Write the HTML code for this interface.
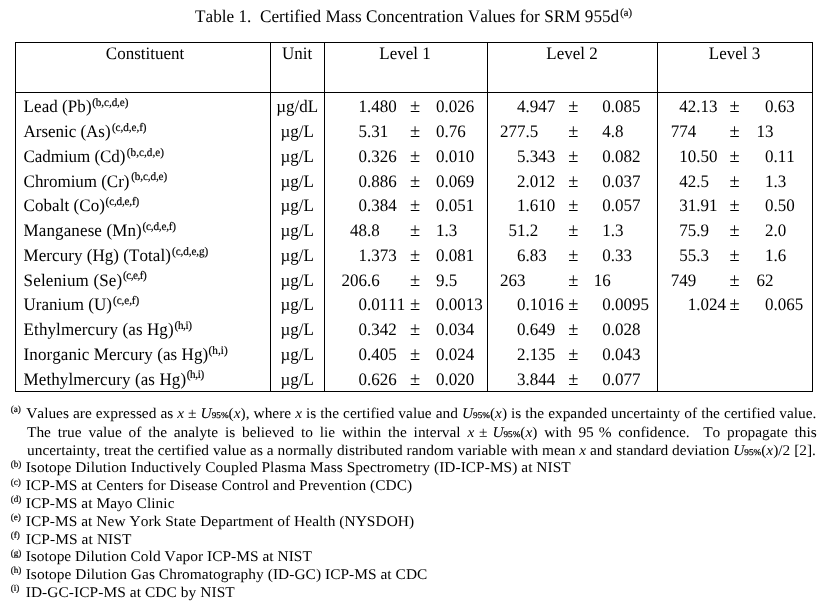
<!DOCTYPE html>
<html><head><meta charset="utf-8"><title>Table 1. Certified Mass Concentration Values for SRM 955d</title>
<style>html,body{margin:0;padding:0;background:#fff;width:831px;height:607px;overflow:hidden}svg{display:block}</style>
</head><body>
<svg width="831" height="607" viewBox="0 0 831 607" font-family="'Liberation Serif', 'Times New Roman', serif" fill="#000" text-rendering="geometricPrecision" style="font-kerning:none">
<rect x="0" y="0" width="831" height="607" fill="#fff"/>
<rect x="15" y="42" width="798" height="1"/>
<rect x="15" y="92" width="798" height="1"/>
<rect x="15" y="391" width="798" height="1"/>
<rect x="15" y="42" width="1" height="350"/>
<rect x="812" y="42" width="1" height="350"/>
<rect x="270" y="42" width="1" height="350"/>
<rect x="324" y="42" width="1" height="350"/>
<rect x="487" y="42" width="1" height="350"/>
<rect x="657" y="42" width="1" height="350"/>
<text transform="translate(195.0 21.8) scale(0.97087 1)" font-size="17.716" xml:space="preserve" textLength="436.926" lengthAdjust="spacing">Table 1.  Certified Mass Concentration Values for SRM 955d</text>
<text transform="translate(620.2 16) scale(0.97087 1)" font-size="10.918" stroke="#000" stroke-width="0.2">(a)</text>
<text transform="translate(145.0 58.8) scale(0.97087 1)" font-size="17.51" text-anchor="middle">Constituent</text>
<text transform="translate(297.2 58.8) scale(0.97087 1)" font-size="17.51" text-anchor="middle">Unit</text>
<text transform="translate(405 58.8) scale(0.97087 1)" font-size="17.51" text-anchor="middle">Level 1</text>
<text transform="translate(572 58.8) scale(0.97087 1)" font-size="17.51" text-anchor="middle">Level 2</text>
<text transform="translate(734.5 58.8) scale(0.97087 1)" font-size="17.51" text-anchor="middle">Level 3</text>
<text transform="translate(23.6 112.4) scale(0.97087 1)" font-size="17.51" textLength="69.989" lengthAdjust="spacing">Lead (Pb)</text>
<text transform="translate(92.2 106.1) scale(0.97087 1)" font-size="11.536" stroke="#000" stroke-width="0.2" textLength="37.348" lengthAdjust="spacing">(b,c,d,e)</text>
<text transform="translate(297.2 112.4) scale(0.97087 1)" font-size="17.51" text-anchor="middle">µg/dL</text>
<text transform="translate(358.5 112.4) scale(0.97087 1)" font-size="17.51">1.480</text>
<text transform="translate(410.0 112.4) scale(0.97087 1)" font-size="19.055">±</text>
<text transform="translate(436.1 112.4) scale(0.97087 1)" font-size="17.51">0.026</text>
<text transform="translate(517.1 112.4) scale(0.97087 1)" font-size="17.51">4.947</text>
<text transform="translate(568.2 112.4) scale(0.97087 1)" font-size="19.055">±</text>
<text transform="translate(602.3 112.4) scale(0.97087 1)" font-size="17.51">0.085</text>
<text transform="translate(679.2 112.4) scale(0.97087 1)" font-size="17.51">42.13</text>
<text transform="translate(729.5 112.4) scale(0.97087 1)" font-size="19.055">±</text>
<text transform="translate(765.1 112.4) scale(0.97087 1)" font-size="17.51">0.63</text>
<text transform="translate(23.6 137.15) scale(0.97087 1)" font-size="17.51" textLength="89.559" lengthAdjust="spacing">Arsenic (As)</text>
<text transform="translate(111.9 130.85) scale(0.97087 1)" font-size="11.536" stroke="#000" stroke-width="0.2" textLength="35.7" lengthAdjust="spacing">(c,d,e,f)</text>
<text transform="translate(297.2 137.15) scale(0.97087 1)" font-size="17.51" text-anchor="middle">µg/L</text>
<text transform="translate(358.5 137.15) scale(0.97087 1)" font-size="17.51">5.31</text>
<text transform="translate(410.0 137.15) scale(0.97087 1)" font-size="19.055">±</text>
<text transform="translate(436.1 137.15) scale(0.97087 1)" font-size="17.51">0.76</text>
<text transform="translate(500.1 137.15) scale(0.97087 1)" font-size="17.51">277.5</text>
<text transform="translate(568.2 137.15) scale(0.97087 1)" font-size="19.055">±</text>
<text transform="translate(602.3 137.15) scale(0.97087 1)" font-size="17.51">4.8</text>
<text transform="translate(670.7 137.15) scale(0.97087 1)" font-size="17.51">774</text>
<text transform="translate(729.5 137.15) scale(0.97087 1)" font-size="19.055">±</text>
<text transform="translate(756.6 137.15) scale(0.97087 1)" font-size="17.51">13</text>
<text transform="translate(23.6 161.9) scale(0.97087 1)" font-size="17.51" textLength="104.803" lengthAdjust="spacing">Cadmium (Cd)</text>
<text transform="translate(126.8 155.6) scale(0.97087 1)" font-size="11.536" stroke="#000" stroke-width="0.2" textLength="38.275" lengthAdjust="spacing">(b,c,d,e)</text>
<text transform="translate(297.2 161.9) scale(0.97087 1)" font-size="17.51" text-anchor="middle">µg/L</text>
<text transform="translate(358.5 161.9) scale(0.97087 1)" font-size="17.51">0.326</text>
<text transform="translate(410.0 161.9) scale(0.97087 1)" font-size="19.055">±</text>
<text transform="translate(436.1 161.9) scale(0.97087 1)" font-size="17.51">0.010</text>
<text transform="translate(517.1 161.9) scale(0.97087 1)" font-size="17.51">5.343</text>
<text transform="translate(568.2 161.9) scale(0.97087 1)" font-size="19.055">±</text>
<text transform="translate(602.3 161.9) scale(0.97087 1)" font-size="17.51">0.082</text>
<text transform="translate(679.2 161.9) scale(0.97087 1)" font-size="17.51">10.50</text>
<text transform="translate(729.5 161.9) scale(0.97087 1)" font-size="19.055">±</text>
<text transform="translate(765.1 161.9) scale(0.97087 1)" font-size="17.51">0.11</text>
<text transform="translate(23.6 186.65) scale(0.97087 1)" font-size="17.51" textLength="109.026" lengthAdjust="spacing">Chromium (Cr)</text>
<text transform="translate(131.2 180.35) scale(0.97087 1)" font-size="11.536" stroke="#000" stroke-width="0.2" textLength="37.039" lengthAdjust="spacing">(b,c,d,e)</text>
<text transform="translate(297.2 186.65) scale(0.97087 1)" font-size="17.51" text-anchor="middle">µg/L</text>
<text transform="translate(358.5 186.65) scale(0.97087 1)" font-size="17.51">0.886</text>
<text transform="translate(410.0 186.65) scale(0.97087 1)" font-size="19.055">±</text>
<text transform="translate(436.1 186.65) scale(0.97087 1)" font-size="17.51">0.069</text>
<text transform="translate(517.1 186.65) scale(0.97087 1)" font-size="17.51">2.012</text>
<text transform="translate(568.2 186.65) scale(0.97087 1)" font-size="19.055">±</text>
<text transform="translate(602.3 186.65) scale(0.97087 1)" font-size="17.51">0.037</text>
<text transform="translate(679.2 186.65) scale(0.97087 1)" font-size="17.51">42.5</text>
<text transform="translate(729.5 186.65) scale(0.97087 1)" font-size="19.055">±</text>
<text transform="translate(765.1 186.65) scale(0.97087 1)" font-size="17.51">1.3</text>
<text transform="translate(23.6 211.4) scale(0.97087 1)" font-size="17.51" textLength="83.688" lengthAdjust="spacing">Cobalt (Co)</text>
<text transform="translate(105.6 205.1) scale(0.97087 1)" font-size="11.536" stroke="#000" stroke-width="0.2" textLength="34.67" lengthAdjust="spacing">(c,d,e,f)</text>
<text transform="translate(297.2 211.4) scale(0.97087 1)" font-size="17.51" text-anchor="middle">µg/L</text>
<text transform="translate(358.5 211.4) scale(0.97087 1)" font-size="17.51">0.384</text>
<text transform="translate(410.0 211.4) scale(0.97087 1)" font-size="19.055">±</text>
<text transform="translate(436.1 211.4) scale(0.97087 1)" font-size="17.51">0.051</text>
<text transform="translate(517.1 211.4) scale(0.97087 1)" font-size="17.51">1.610</text>
<text transform="translate(568.2 211.4) scale(0.97087 1)" font-size="19.055">±</text>
<text transform="translate(602.3 211.4) scale(0.97087 1)" font-size="17.51">0.057</text>
<text transform="translate(679.2 211.4) scale(0.97087 1)" font-size="17.51">31.91</text>
<text transform="translate(729.5 211.4) scale(0.97087 1)" font-size="19.055">±</text>
<text transform="translate(765.1 211.4) scale(0.97087 1)" font-size="17.51">0.50</text>
<text transform="translate(23.6 236.15) scale(0.97087 1)" font-size="17.51" textLength="121.592" lengthAdjust="spacing">Manganese (Mn)</text>
<text transform="translate(142.5 229.85) scale(0.97087 1)" font-size="11.536" stroke="#000" stroke-width="0.2" textLength="34.567" lengthAdjust="spacing">(c,d,e,f)</text>
<text transform="translate(297.2 236.15) scale(0.97087 1)" font-size="17.51" text-anchor="middle">µg/L</text>
<text transform="translate(350.0 236.15) scale(0.97087 1)" font-size="17.51">48.8</text>
<text transform="translate(410.0 236.15) scale(0.97087 1)" font-size="19.055">±</text>
<text transform="translate(436.1 236.15) scale(0.97087 1)" font-size="17.51">1.3</text>
<text transform="translate(508.6 236.15) scale(0.97087 1)" font-size="17.51">51.2</text>
<text transform="translate(568.2 236.15) scale(0.97087 1)" font-size="19.055">±</text>
<text transform="translate(602.3 236.15) scale(0.97087 1)" font-size="17.51">1.3</text>
<text transform="translate(679.2 236.15) scale(0.97087 1)" font-size="17.51">75.9</text>
<text transform="translate(729.5 236.15) scale(0.97087 1)" font-size="19.055">±</text>
<text transform="translate(765.1 236.15) scale(0.97087 1)" font-size="17.51">2.0</text>
<text transform="translate(23.6 260.9) scale(0.97087 1)" font-size="17.51" textLength="151.667" lengthAdjust="spacing">Mercury (Hg) (Total)</text>
<text transform="translate(172.1 254.6) scale(0.97087 1)" font-size="11.536" stroke="#000" stroke-width="0.2" textLength="37.142" lengthAdjust="spacing">(c,d,e,g)</text>
<text transform="translate(297.2 260.9) scale(0.97087 1)" font-size="17.51" text-anchor="middle">µg/L</text>
<text transform="translate(358.5 260.9) scale(0.97087 1)" font-size="17.51">1.373</text>
<text transform="translate(410.0 260.9) scale(0.97087 1)" font-size="19.055">±</text>
<text transform="translate(436.1 260.9) scale(0.97087 1)" font-size="17.51">0.081</text>
<text transform="translate(517.1 260.9) scale(0.97087 1)" font-size="17.51">6.83</text>
<text transform="translate(568.2 260.9) scale(0.97087 1)" font-size="19.055">±</text>
<text transform="translate(602.3 260.9) scale(0.97087 1)" font-size="17.51">0.33</text>
<text transform="translate(679.2 260.9) scale(0.97087 1)" font-size="17.51">55.3</text>
<text transform="translate(729.5 260.9) scale(0.97087 1)" font-size="19.055">±</text>
<text transform="translate(765.1 260.9) scale(0.97087 1)" font-size="17.51">1.6</text>
<text transform="translate(23.6 285.65) scale(0.97087 1)" font-size="17.51" textLength="101.507" lengthAdjust="spacing">Selenium (Se)</text>
<text transform="translate(122.9 279.35) scale(0.97087 1)" font-size="11.536" stroke="#000" stroke-width="0.2" textLength="24.679" lengthAdjust="spacing">(c,e,f)</text>
<text transform="translate(297.2 285.65) scale(0.97087 1)" font-size="17.51" text-anchor="middle">µg/L</text>
<text transform="translate(341.5 285.65) scale(0.97087 1)" font-size="17.51">206.6</text>
<text transform="translate(410.0 285.65) scale(0.97087 1)" font-size="19.055">±</text>
<text transform="translate(436.1 285.65) scale(0.97087 1)" font-size="17.51">9.5</text>
<text transform="translate(500.1 285.65) scale(0.97087 1)" font-size="17.51">263</text>
<text transform="translate(568.2 285.65) scale(0.97087 1)" font-size="19.055">±</text>
<text transform="translate(593.8 285.65) scale(0.97087 1)" font-size="17.51">16</text>
<text transform="translate(670.7 285.65) scale(0.97087 1)" font-size="17.51">749</text>
<text transform="translate(729.5 285.65) scale(0.97087 1)" font-size="19.055">±</text>
<text transform="translate(756.6 285.65) scale(0.97087 1)" font-size="17.51">62</text>
<text transform="translate(23.6 310.4) scale(0.97087 1)" font-size="17.51" textLength="91.001" lengthAdjust="spacing">Uranium (U)</text>
<text transform="translate(113.0 304.1) scale(0.97087 1)" font-size="11.536" stroke="#000" stroke-width="0.2" textLength="27.048" lengthAdjust="spacing">(c,e,f)</text>
<text transform="translate(297.2 310.4) scale(0.97087 1)" font-size="17.51" text-anchor="middle">µg/L</text>
<text transform="translate(358.5 310.4) scale(0.97087 1)" font-size="17.51">0.0111</text>
<text transform="translate(410.0 310.4) scale(0.97087 1)" font-size="19.055">±</text>
<text transform="translate(436.1 310.4) scale(0.97087 1)" font-size="17.51">0.0013</text>
<text transform="translate(517.1 310.4) scale(0.97087 1)" font-size="17.51">0.1016</text>
<text transform="translate(568.2 310.4) scale(0.97087 1)" font-size="19.055">±</text>
<text transform="translate(602.3 310.4) scale(0.97087 1)" font-size="17.51">0.0095</text>
<text transform="translate(687.7 310.4) scale(0.97087 1)" font-size="17.51">1.024</text>
<text transform="translate(729.5 310.4) scale(0.97087 1)" font-size="19.055">±</text>
<text transform="translate(765.1 310.4) scale(0.97087 1)" font-size="17.51">0.065</text>
<text transform="translate(23.6 335.15) scale(0.97087 1)" font-size="17.51" textLength="154.449" lengthAdjust="spacing">Ethylmercury (as Hg)</text>
<text transform="translate(174.6 328.85) scale(0.97087 1)" font-size="11.536" stroke="#000" stroke-width="0.2" textLength="17.881" lengthAdjust="spacing">(h,i)</text>
<text transform="translate(297.2 335.15) scale(0.97087 1)" font-size="17.51" text-anchor="middle">µg/L</text>
<text transform="translate(358.5 335.15) scale(0.97087 1)" font-size="17.51">0.342</text>
<text transform="translate(410.0 335.15) scale(0.97087 1)" font-size="19.055">±</text>
<text transform="translate(436.1 335.15) scale(0.97087 1)" font-size="17.51">0.034</text>
<text transform="translate(517.1 335.15) scale(0.97087 1)" font-size="17.51">0.649</text>
<text transform="translate(568.2 335.15) scale(0.97087 1)" font-size="19.055">±</text>
<text transform="translate(602.3 335.15) scale(0.97087 1)" font-size="17.51">0.028</text>
<text transform="translate(23.6 359.9) scale(0.97087 1)" font-size="17.51" textLength="190.087" lengthAdjust="spacing">Inorganic Mercury (as Hg)</text>
<text transform="translate(208.6 353.6) scale(0.97087 1)" font-size="11.536" stroke="#000" stroke-width="0.2" textLength="19.632" lengthAdjust="spacing">(h,i)</text>
<text transform="translate(297.2 359.9) scale(0.97087 1)" font-size="17.51" text-anchor="middle">µg/L</text>
<text transform="translate(358.5 359.9) scale(0.97087 1)" font-size="17.51">0.405</text>
<text transform="translate(410.0 359.9) scale(0.97087 1)" font-size="19.055">±</text>
<text transform="translate(436.1 359.9) scale(0.97087 1)" font-size="17.51">0.024</text>
<text transform="translate(517.1 359.9) scale(0.97087 1)" font-size="17.51">2.135</text>
<text transform="translate(568.2 359.9) scale(0.97087 1)" font-size="19.055">±</text>
<text transform="translate(602.3 359.9) scale(0.97087 1)" font-size="17.51">0.043</text>
<text transform="translate(23.6 384.65) scale(0.97087 1)" font-size="17.51" textLength="167.324" lengthAdjust="spacing">Methylmercury (as Hg)</text>
<text transform="translate(186.8 378.35) scale(0.97087 1)" font-size="11.536" stroke="#000" stroke-width="0.2" textLength="17.881" lengthAdjust="spacing">(h,i)</text>
<text transform="translate(297.2 384.65) scale(0.97087 1)" font-size="17.51" text-anchor="middle">µg/L</text>
<text transform="translate(358.5 384.65) scale(0.97087 1)" font-size="17.51">0.626</text>
<text transform="translate(410.0 384.65) scale(0.97087 1)" font-size="19.055">±</text>
<text transform="translate(436.1 384.65) scale(0.97087 1)" font-size="17.51">0.020</text>
<text transform="translate(517.1 384.65) scale(0.97087 1)" font-size="17.51">3.844</text>
<text transform="translate(568.2 384.65) scale(0.97087 1)" font-size="19.055">±</text>
<text transform="translate(602.3 384.65) scale(0.97087 1)" font-size="17.51">0.077</text>
<text x="10.7" y="411.6" font-size="9.2" stroke="#000" stroke-width="0.2">(a)</text>
<text transform="translate(26.2 418.3) scale(1.04167 1)" font-size="14.784" xml:space="preserve" word-spacing="0.173">Values are expressed as <tspan font-style="italic">x</tspan> ± <tspan font-style="italic">U</tspan><tspan font-size="8.832" stroke="#000" stroke-width="0.25">95%</tspan>(<tspan font-style="italic">x</tspan>), where <tspan font-style="italic">x</tspan> is the certified value and <tspan font-style="italic">U</tspan><tspan font-size="8.832" stroke="#000" stroke-width="0.25">95%</tspan>(<tspan font-style="italic">x</tspan>) is the expanded uncertainty of the certified value.</text>
<text transform="translate(27.0 436.6) scale(1.04167 1)" font-size="14.784" xml:space="preserve" word-spacing="2.842">The true value of the analyte is believed to lie within the interval <tspan word-spacing="0.96"><tspan font-style="italic">x</tspan> ± <tspan font-style="italic">U</tspan><tspan font-size="8.832" stroke="#000" stroke-width="0.25">95%</tspan>(<tspan font-style="italic">x</tspan>)</tspan> with <tspan word-spacing="0.96">95 %</tspan> confidence.  To propagate this</text>
<text transform="translate(27.0 454.9) scale(1.04167 1)" font-size="14.784" xml:space="preserve" word-spacing="0.038">uncertainty, treat the certified value as a normally distributed random variable with mean <tspan font-style="italic">x</tspan> and standard deviation <tspan font-style="italic">U</tspan><tspan font-size="8.832" stroke="#000" stroke-width="0.25">95%</tspan>(<tspan font-style="italic">x</tspan>)/2 [2].</text>
<text x="10.7" y="466.8" font-size="9.2" stroke="#000" stroke-width="0.2">(b)</text>
<text transform="translate(25.7 472.2) scale(1.04167 1)" font-size="14.784" textLength="523.2" lengthAdjust="spacing">Isotope Dilution Inductively Coupled Plasma Mass Spectrometry (ID-ICP-MS) at NIST</text>
<text x="10.7" y="484.5" font-size="9.2" stroke="#000" stroke-width="0.2">(c)</text>
<text transform="translate(25.7 489.9) scale(1.04167 1)" font-size="14.784" textLength="371.04" lengthAdjust="spacing">ICP-MS at Centers for Disease Control and Prevention (CDC)</text>
<text x="10.7" y="502.2" font-size="9.2" stroke="#000" stroke-width="0.2">(d)</text>
<text transform="translate(25.7 507.6) scale(1.04167 1)" font-size="14.784" textLength="142.848" lengthAdjust="spacing">ICP-MS at Mayo Clinic</text>
<text x="10.7" y="520.3" font-size="9.2" stroke="#000" stroke-width="0.2">(e)</text>
<text transform="translate(25.7 525.7) scale(1.04167 1)" font-size="14.784" textLength="372.864" lengthAdjust="spacing">ICP-MS at New York State Department of Health (NYSDOH)</text>
<text x="10.7" y="538.1" font-size="9.2" stroke="#000" stroke-width="0.2">(f)</text>
<text transform="translate(25.7 543.5) scale(1.04167 1)" font-size="14.784" textLength="101.472" lengthAdjust="spacing">ICP-MS at NIST</text>
<text x="10.7" y="555.8" font-size="9.2" stroke="#000" stroke-width="0.2">(g)</text>
<text transform="translate(25.7 561.2) scale(1.04167 1)" font-size="14.784" textLength="274.656" lengthAdjust="spacing">Isotope Dilution Cold Vapor ICP-MS at NIST</text>
<text x="10.7" y="573.3" font-size="9.2" stroke="#000" stroke-width="0.2">(h)</text>
<text transform="translate(25.7 578.7) scale(1.04167 1)" font-size="14.784" textLength="385.584" lengthAdjust="spacing">Isotope Dilution Gas Chromatography (ID-GC) ICP-MS at CDC</text>
<text x="10.7" y="591.2" font-size="9.2" stroke="#000" stroke-width="0.2">(i)</text>
<text transform="translate(25.7 596.6) scale(1.04167 1)" font-size="14.784" textLength="200.64" lengthAdjust="spacing">ID-GC-ICP-MS at CDC by NIST</text>
</svg>
</body></html>
